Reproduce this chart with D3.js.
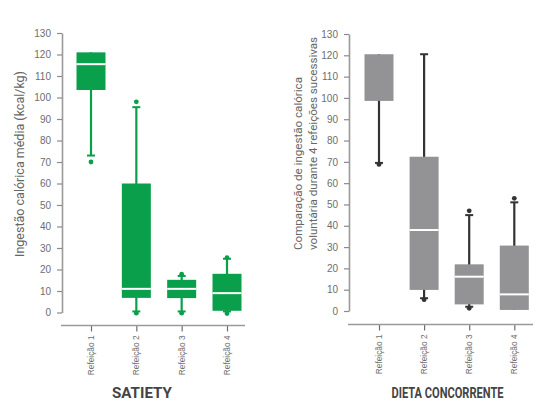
<!DOCTYPE html>
<html>
<head>
<meta charset="utf-8">
<script src="https://cdn.jsdelivr.net/npm/d3@7"></script>
<style>
  body { margin: 0; background: #fff; }
  svg { display: block; font-family: Roboto, "Liberation Sans", sans-serif; }
</style>
</head>
<body>
<svg id="chart" width="545" height="419"></svg>
<script>
// categories and tick labels
var categories = ["Refeição 1", "Refeição 2", "Refeição 3", "Refeição 4"];
var yTickValues = [0, 10, 20, 30, 40, 50, 60, 70, 80, 90, 100, 110, 120, 130];

// SATIETY boxes (kcal/kg)
var satietyLow = [73, 0.5, 0.5, 0.5];
var satietyQ1 = [103.5, 6.8, 6.7, 0.8];
var satietyMedian = [115.5, 11, 11, 9];
var satietyQ3 = [121, 60, 15.2, 18];
var satietyHigh = [121, 95.5, 17, 25];
var satietyOutliers = [[70], [98, -0.3], [17.8, -0.3], [25.5, -0.5]];

// DIETA CONCORRENTE boxes
var dietaLow = [69.5, 6, 2, 0.5];
var dietaQ1 = [98.6, 9.9, 3.1, 0.5];
var dietaMedian = [null, 38, 16.1, 7.8];
var dietaQ3 = [120.5, 72.4, 21.9, 30.7];
var dietaHigh = [120.5, 120.5, 45, 51];
var dietaOutliers = [[68.8], [5.3], [47, 1.3], [52.9]];

var svg = d3.select("#chart");

function drawPanel(p) {
  var g = svg.append("g");

  var y = d3.scaleLinear().domain([0, 130]).range([p.yBottom, p.yTop]);
  var x = d3.scalePoint().domain(categories).range([p.xFirst, p.xLast]);

  // y axis
  var yAxis = d3.axisLeft(y).tickValues(yTickValues).tickSize(5).tickSizeOuter(0).tickPadding(6);
  var ya = g.append("g")
    .attr("transform", "translate(" + p.yAxisX + ",0)")
    .call(yAxis);
  ya.select(".domain").attr("stroke", "#9a9a9a").attr("stroke-width", 1.6);
  ya.selectAll(".tick line").attr("stroke", "#8a8a8a").attr("stroke-width", 1.2);
  ya.selectAll(".tick text").attr("fill", "#6e6e6e").style("font-size", "10px");

  // x axis (separate baseline below the plot)
  var xAxis = d3.axisBottom(x).tickSize(6).tickSizeOuter(0);
  var xa = g.append("g")
    .attr("transform", "translate(0," + p.xAxisY + ")")
    .call(xAxis);
  xa.select(".domain").remove();
  xa.append("line")
    .attr("x1", p.yAxisX - 1).attr("x2", p.xAxisEnd)
    .attr("stroke", "#9a9a9a").attr("stroke-width", 1.6);
  xa.selectAll(".tick line").attr("stroke", "#6e6e6e").attr("stroke-width", 1.2);
  xa.selectAll(".tick text")
    .attr("transform", "rotate(-90)")
    .attr("text-anchor", "end")
    .attr("x", -10).attr("y", 0).attr("dy", "0.32em")
    .attr("fill", "#6e6e6e")
    .style("font-family", "'Liberation Sans', Arial, sans-serif")
    .style("font-size", "8.3px");

  var bw = 29, capW = 8;
  var boxes = g.append("g").selectAll("g")
    .data(categories)
    .enter().append("g");

  // whiskers
  boxes.append("line")
    .attr("x1", function(d) { return x(d); })
    .attr("x2", function(d) { return x(d); })
    .attr("y1", function(d, i) { return y(p.low[i]); })
    .attr("y2", function(d, i) { return y(p.high[i]); })
    .attr("stroke", p.whisker).attr("stroke-width", 2.2);

  // caps
  [p.low, p.high].forEach(function(arr) {
    boxes.append("line")
      .attr("x1", function(d) { return x(d) - capW / 2; })
      .attr("x2", function(d) { return x(d) + capW / 2; })
      .attr("y1", function(d, i) { return y(arr[i]); })
      .attr("y2", function(d, i) { return y(arr[i]); })
      .attr("stroke", p.whisker).attr("stroke-width", 2)
      .attr("display", function(d, i) { return arr[i] == p.q1[i] || arr[i] == p.q3[i] ? "none" : null; });
  });

  // boxes
  boxes.append("rect")
    .attr("x", function(d) { return x(d) - bw / 2; })
    .attr("width", bw)
    .attr("y", function(d, i) { return y(p.q3[i]); })
    .attr("height", function(d, i) { return y(p.q1[i]) - y(p.q3[i]); })
    .attr("fill", p.fill);

  // medians
  boxes.filter(function(d, i) { return p.median[i] != null; })
    .append("line")
    .attr("x1", function(d) { return x(d) - bw / 2; })
    .attr("x2", function(d) { return x(d) + bw / 2; })
    .attr("y1", function(d) { return y(p.median[categories.indexOf(d)]); })
    .attr("y2", function(d) { return y(p.median[categories.indexOf(d)]); })
    .attr("stroke", "#fff").attr("stroke-width", 2);

  // outliers
  boxes.selectAll("circle")
    .data(function(d, i) { return p.outliers[i].map(function(v) { return { c: d, v: v }; }); })
    .enter().append("circle")
    .attr("cx", function(o) { return x(o.c); })
    .attr("cy", function(o) { return y(o.v); })
    .attr("r", 2.4)
    .attr("fill", p.whisker);

  // subtitle
  g.append("text")
    .attr("x", p.subX).attr("y", 398)
    .attr("text-anchor", "middle")
    .attr("fill", "#444")
    .style("font-weight", "bold")
    .style("font-size", "15px")
    .attr("textLength", p.subLen)
    .attr("lengthAdjust", "spacingAndGlyphs")
    .text(p.subtitle);

  return g;
}

drawPanel({
  yTop: 33, yBottom: 312.5, xFirst: 91, xLast: 227, yAxisX: 62, xAxisY: 325.5, xAxisEnd: 245,
  low: satietyLow, q1: satietyQ1, median: satietyMedian, q3: satietyQ3, high: satietyHigh, outliers: satietyOutliers,
  fill: "#0a9f4b", whisker: "#0a9f4b",
  subtitle: "SATIETY", subX: 142, subLen: 60
});

drawPanel({
  yTop: 34, yBottom: 311, xFirst: 379, xLast: 514.3, yAxisX: 349, xAxisY: 324.5, xAxisEnd: 533,
  low: dietaLow, q1: dietaQ1, median: dietaMedian, q3: dietaQ3, high: dietaHigh, outliers: dietaOutliers,
  fill: "#939396", whisker: "#333333",
  subtitle: "DIETA CONCORRENTE", subX: 447.5, subLen: 112
});

// y axis titles
svg.append("text")
  .attr("transform", "translate(24,164) rotate(-90)")
  .attr("text-anchor", "middle")
  .attr("fill", "#666")
  .style("font-size", "12.5px")
  .text("Ingestão calórica média (kcal/kg)");

var rightTitle = svg.append("text")
  .attr("transform", "translate(302,250) rotate(-90)")
  .attr("text-anchor", "start")
  .attr("fill", "#666")
  .style("font-size", "11.6px");
rightTitle.append("tspan").attr("x", 0).attr("y", 0).text("Comparação de ingestão calórica");
rightTitle.append("tspan").attr("x", 0).attr("y", 15).text("voluntária durante 4 refeições sucessivas");
</script>
</body>
</html>
